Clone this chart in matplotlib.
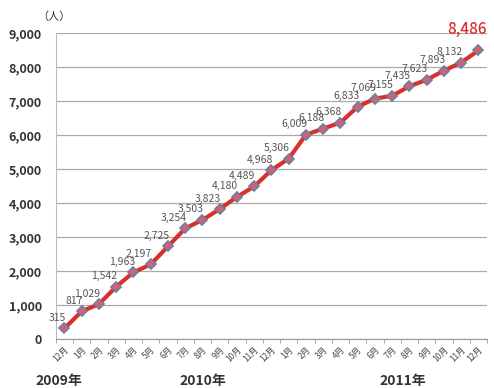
import numpy as np
import matplotlib
matplotlib.use('Agg')
import matplotlib.pyplot as plt
from matplotlib.ticker import FuncFormatter, FixedLocator

plt.rcParams['font.family'] = ['Noto Sans CJK JP', 'DejaVu Sans']

# cumulative head count, Dec 2009 .. Dec 2011
months = ['12月', '1月', '2月', '3月', '4月', '5月', '6月', '7月', '8月', '9月', '10月', '11月',
          '12月', '1月', '2月', '3月', '4月', '5月', '6月', '7月', '8月', '9月', '10月', '11月', '12月']
values = [315, 817, 1029, 1542, 1963, 2197, 2725, 3254, 3503, 3823, 4180, 4489,
          4968, 5306, 6009, 6188, 6368, 6833, 7069, 7155, 7435, 7623, 7893, 8132, 8486]
years = ['2009年', '2010年', '2011年']
year_pos = [0.12, 0.41, 0.815]

fig = plt.figure(figsize=(4.94, 3.88), dpi=100)
ax = fig.add_axes([0.113, 0.126, 0.873, 0.789])

x = np.arange(len(values))
ax.plot(x, values, color='#d9302c', lw=3, zorder=3,
        marker='D', ms=5.5, mfc='#d9606a', mec='#6a7fa8', mew=1.2)

ax.set_xlim(-0.5, len(values) - 0.5)
ax.set_ylim(0, 9000)
ax.set_yticks(np.arange(0, 9001, 1000))
ax.yaxis.set_major_formatter(FuncFormatter(lambda v, p: f'{int(v):,}'))
ax.tick_params(axis='y', length=0, pad=10, labelsize=9, labelcolor='#333333')
for lbl in ax.get_yticklabels():
    lbl.set_fontweight('bold')
ax.grid(axis='y', color='#aaaaaa', lw=0.9)
ax.set_axisbelow(True)

ax.set_xticks(x)
ax.set_xticklabels(months, rotation=45, ha='right', rotation_mode='anchor',
                   fontsize=6, color='#444444')
ax.tick_params(axis='x', which='major', length=0, pad=4)
ax.xaxis.set_minor_locator(FixedLocator(np.arange(-0.5, len(values), 1)))
ax.tick_params(axis='x', which='minor', length=3, color='#999999')

for s in ['top', 'right']:
    ax.spines[s].set_visible(False)
ax.spines['left'].set_color('#bbbbbb')
ax.spines['bottom'].set_color('#999999')

# value labels
for i, v in enumerate(values[:-1]):
    ax.annotate(f'{v:,}', (i, v), xytext=(1, 4), textcoords='offset points',
                ha='right', va='bottom', fontsize=7.5, color='#555555')
ax.annotate(f'{values[-1]:,}', (x[-1], values[-1]), xytext=(6, 9),
            textcoords='offset points', ha='right', va='bottom',
            fontsize=11, fontweight='medium', color='#d9302c')

fig.text(0.075, 0.958, '（人）', fontsize=8, color='#333333', va='center')
for y, xp in zip(years, year_pos):
    fig.text(xp, 0.0, y, fontsize=10, fontweight='bold', color='#333333', ha='center', va='bottom')

fig.savefig('out.png', dpi=100)
